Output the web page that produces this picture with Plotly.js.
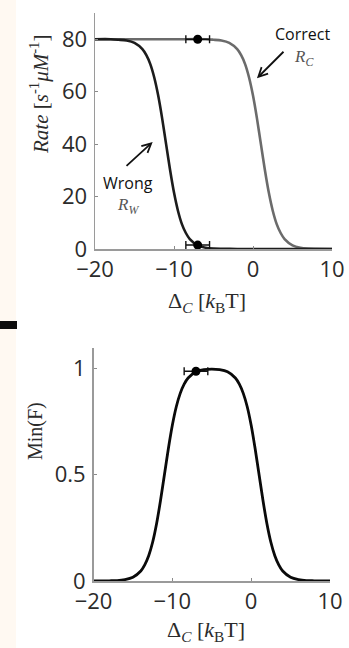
<!DOCTYPE html>
<html>
<head>
<meta charset="utf-8">
<script src="https://cdn.plot.ly/plotly-3.0.1.min.js"></script>
<style>
html,body{margin:0;padding:0;background:#fff;}
#chart{width:349px;height:648px;}
</style>
</head>
<body>
<div id="chart"></div>
<script>
// ---- data ----
const wrongX = [-20, -18, -17, -16, -15, -14, -13.5, -13, -12.5, -12, -11.5, -11, -10.5, -10, -9.5, -9, -8.5, -8, -7, -6, -5, -4, -2, 0, 5, 10];
const wrongY = [80, 80, 79.8, 79.5, 78.6, 76.2, 73.9, 70.5, 65.4, 58.5, 49.8, 40, 30.2, 21.5, 14.6, 9.5, 6.1, 3.8, 1.4, 0.5, 0.2, 0.1, 0, 0, 0, 0];

const correctX = [-20, -10, -6, -5, -4, -3, -2, -1.5, -1, -0.5, 0, 0.5, 1, 1.5, 2, 2.5, 3, 3.5, 4, 5, 6, 7, 8, 10];
const correctY = [80, 80, 80, 79.8, 79.5, 78.6, 76.2, 73.9, 70.5, 65.4, 58.5, 49.8, 40, 30.2, 21.5, 14.6, 9.5, 6.1, 3.8, 1.4, 0.5, 0.2, 0.1, 0];

const minFX = [-20, -18, -17, -16, -15, -14, -13.5, -13, -12.5, -12, -11.5, -11, -10.5, -10, -9.5, -9, -8.5, -8, -7, -6, -5, -4, -3, -2, -1.5, -1, -0.5, 0, 0.5, 1, 1.5, 2, 2.5, 3, 3.5, 4, 5, 6, 7, 8, 10];
const minFY = [0, 0.001, 0.002, 0.007, 0.018, 0.047, 0.076, 0.119, 0.182, 0.269, 0.378, 0.5, 0.622, 0.731, 0.818, 0.881, 0.924, 0.953, 0.982, 0.992, 0.995, 0.992, 0.982, 0.953, 0.924, 0.881, 0.818, 0.731, 0.622, 0.5, 0.378, 0.269, 0.182, 0.119, 0.076, 0.047, 0.018, 0.007, 0.002, 0.001, 0];

const rateDotX = [-7, -7];
const rateDotY = [80, 1.5];
const rateDotErr = [1.5, 1.5];

const fDotX = [-7];
const fDotY = [0.985];
const fDotErr = [1.5];

const xTicks = [-20, -10, 0, 10];
const rateTicks = [0, 20, 40, 60, 80];
const fTicks = [0, 0.5, 1];
const fTickText = ['0', '0.5', '1'];

// ---- figure ----
const W = 349, H = 648;
const px = v => v / W;
const py = v => 1 - v / H;

const tickFont = {family: 'Open Sans, sans-serif', size: 22, color: '#2b2b2b'};
const serif = 'Liberation Serif, Times New Roman, serif';

const traces = [
  {x: correctX, y: correctY, xaxis: 'x', yaxis: 'y', mode: 'lines',
   line: {color: '#6b6b6b', width: 2.6, shape: 'spline', smoothing: 0.8}, hoverinfo: 'skip'},
  {x: wrongX, y: wrongY, xaxis: 'x', yaxis: 'y', mode: 'lines',
   line: {color: '#1c1c1c', width: 2.6, shape: 'spline', smoothing: 0.8}, hoverinfo: 'skip'},
  {x: rateDotX, y: rateDotY, xaxis: 'x', yaxis: 'y', mode: 'markers',
   marker: {color: '#000', size: 9},
   error_x: {type: 'data', array: rateDotErr, visible: true, color: '#111', thickness: 1.4, width: 4}},
  {x: minFX, y: minFY, xaxis: 'x2', yaxis: 'y2', mode: 'lines',
   line: {color: '#0a0a0a', width: 2.8, shape: 'spline', smoothing: 0.8}, hoverinfo: 'skip'},
  {x: fDotX, y: fDotY, xaxis: 'x2', yaxis: 'y2', mode: 'markers',
   marker: {color: '#000', size: 9},
   error_x: {type: 'data', array: fDotErr, visible: true, color: '#111', thickness: 1.4, width: 4}}
];

const axCommon = {
  showgrid: false, zeroline: false, showline: true, linecolor: '#9a9a9a', linewidth: 1.5,
  ticks: 'inside', ticklen: 3, tickcolor: '#8a8a8a', tickwidth: 1,
  tickfont: tickFont, fixedrange: true
};

const layout = {
  width: W, height: H,
  margin: {l: 0, r: 0, t: 0, b: 0},
  paper_bgcolor: '#ffffff', plot_bgcolor: 'rgba(0,0,0,0)',
  showlegend: false,
  xaxis: Object.assign({}, axCommon, {domain: [px(95), px(332)], range: [-20, 10], tickvals: xTicks, anchor: 'y', ticklabelstandoff: 0}),
  yaxis: Object.assign({}, axCommon, {domain: [py(249), py(13)], range: [0, 90], tickvals: rateTicks, anchor: 'x', ticklabelstandoff: 2}),
  xaxis2: Object.assign({}, axCommon, {domain: [px(93.5), px(330)], range: [-20, 10], tickvals: xTicks, anchor: 'y2', ticklabelstandoff: 0}),
  yaxis2: Object.assign({}, axCommon, {domain: [py(581), py(348)], range: [0, 1.094], tickvals: fTicks, ticktext: fTickText, anchor: 'x2', ticklabelstandoff: 2}),
  shapes: [
    {type: 'rect', xref: 'paper', yref: 'paper', x0: 0, x1: px(16), y0: 0, y1: 1,
     fillcolor: '#fff9f2', line: {width: 0}, layer: 'below'},
    {type: 'rect', xref: 'paper', yref: 'paper', x0: 0, x1: px(17), y0: py(329), y1: py(321),
     fillcolor: '#0d0d0d', line: {width: 0}}
  ],
  annotations: [
    // axis titles
    {xref: 'paper', yref: 'paper', x: px(40), y: py(95), textangle: -90, showarrow: false,
     xanchor: 'center', yanchor: 'middle',
     text: '<i>Rate</i> [<i>s</i><sup>-1</sup><i>μM</i><sup>-1</sup>]',
     font: {family: serif, size: 21, color: '#2b2b2b'}},
    {xref: 'paper', yref: 'paper', x: px(207), y: py(302), showarrow: false,
     xanchor: 'center', yanchor: 'middle',
     text: 'Δ<sub><i>C</i></sub> [<i>k</i><sub>B</sub>T]',
     font: {family: serif, size: 22, color: '#2b2b2b'}},
    {xref: 'paper', yref: 'paper', x: px(35), y: py(431), textangle: -90, showarrow: false,
     xanchor: 'center', yanchor: 'middle',
     text: 'Min(F)',
     font: {family: serif, size: 20, color: '#2b2b2b'}},
    {xref: 'paper', yref: 'paper', x: px(206), y: py(631), showarrow: false,
     xanchor: 'center', yanchor: 'middle',
     text: 'Δ<sub><i>C</i></sub> [<i>k</i><sub>B</sub>T]',
     font: {family: serif, size: 22, color: '#2b2b2b'}},
    // labels in top panel
    {xref: 'x', yref: 'y', x: 6.3, y: 81.9, showarrow: false, text: 'Correct',
     font: {family: 'Open Sans, sans-serif', size: 16, color: '#111'}},
    {xref: 'x', yref: 'y', x: 6.5, y: 73, showarrow: false, text: '<i>R</i><sub><i>C</i></sub>',
     font: {family: serif, size: 17, color: '#555'}},
    {xref: 'x', yref: 'y', x: 0.5, y: 65.1, ax: 4.05, ay: 75.8, axref: 'x', ayref: 'y',
     showarrow: true, arrowhead: 5, arrowsize: 1, arrowwidth: 1.8, arrowcolor: '#111', text: ''},
    {xref: 'x', yref: 'y', x: -15.8, y: 25.1, showarrow: false, text: 'Wrong',
     font: {family: 'Open Sans, sans-serif', size: 16, color: '#111'}},
    {xref: 'x', yref: 'y', x: -15.8, y: 16.4, showarrow: false, text: '<i>R</i><sub><i>W</i></sub>',
     font: {family: serif, size: 17, color: '#555'}},
    {xref: 'x', yref: 'y', x: -12.7, y: 40.8, ax: -16.2, ay: 31.2, axref: 'x', ayref: 'y',
     showarrow: true, arrowhead: 5, arrowsize: 1, arrowwidth: 1.8, arrowcolor: '#111', text: ''}
  ]
};

Plotly.newPlot('chart', traces, layout, {staticPlot: true, displayModeBar: false});
</script>
</body>
</html>
